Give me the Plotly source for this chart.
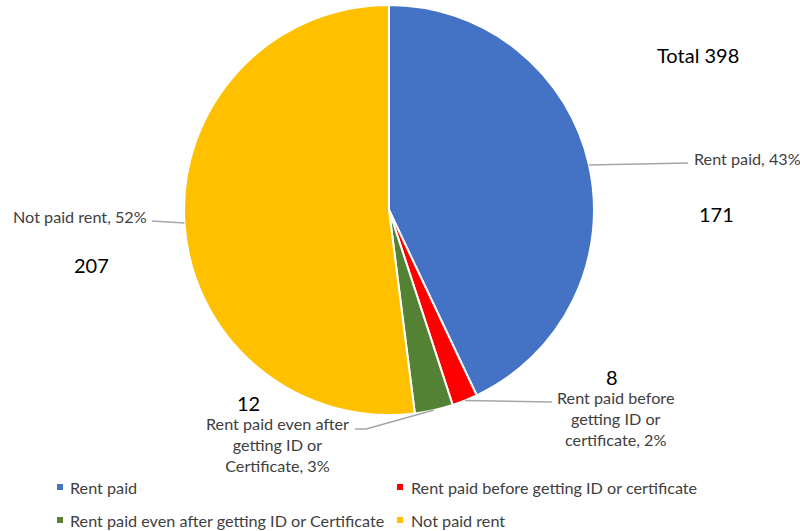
import math
import textwrap
import plotly.graph_objects as go

# Rent payment status of respondents
categories = [
    "Rent paid",
    "Rent paid before getting ID or certificate",
    "Rent paid even after getting ID or Certificate",
    "Not paid rent",
]
counts = [171, 8, 12, 207]
colors = ["#4472C4", "#FF0000", "#548235", "#FFC000"]

W, H = 800, 531
FONT = "Lato, 'Open Sans', sans-serif"
CX, CY, R = 389, 210, 205  # pie centre and radius in pixels


def px(x):
    return x / W


def py(y):
    return 1 - y / H


total = sum(counts)
pcts = [round(v / total * 100) for v in counts]

fig = go.Figure(
    go.Pie(
        labels=categories,
        values=counts,
        marker=dict(colors=colors, line=dict(color="white", width=2)),
        sort=False,
        direction="clockwise",
        rotation=0,
        textinfo="none",
        hoverinfo="label+value+percent",
        showlegend=False,
        domain=dict(x=[px(CX - R), px(CX + R)], y=[py(CY + R), py(CY - R)]),
    )
)

# label placement per slice:
# (elbow points of the leader line, text x, text y, anchor, count x, count y)
placement = [
    ([(688, 163)], 692, 158, "left", 716, 214),
    ([(552, 402)], 615, 418, "center", 612, 377),
    ([(366, 429), (355, 429)], 277, 444, "center", 248, 403),
    ([(152, 221)], 149, 216, "right", 91, 265),
]

shapes = []
annotations = []
cum = 0
for name, v, pct, (pts, tx, ty, anchor, nx, ny) in zip(categories, counts, pcts, placement):
    mid = (cum + v / 2) / total * 2 * math.pi
    cum += v
    ex = CX + R * math.sin(mid)
    ey = CY - R * math.cos(mid)
    prev = (ex, ey)
    for p in pts:
        shapes.append(dict(
            type="line", xref="paper", yref="paper",
            x0=px(prev[0]), y0=py(prev[1]), x1=px(p[0]), y1=py(p[1]),
            line=dict(color="#A6A6A6", width=1.5),
        ))
        prev = p
    text = "<br>".join(textwrap.wrap(f"{name}, {pct}%", width=20))
    annotations.append(dict(
        text=text, x=px(tx), y=py(ty), xref="paper", yref="paper",
        xanchor=anchor, yanchor="middle", align="center", showarrow=False,
        font=dict(family=FONT, size=16.2, color="#404040"),
    ))
    annotations.append(dict(
        text=str(v), x=px(nx), y=py(ny), xref="paper", yref="paper",
        xanchor="center", yanchor="middle", showarrow=False,
        font=dict(family=FONT, size=20, color="#000000"),
    ))

annotations.append(dict(
    text=f"Total {total}", x=px(698), y=py(55), xref="paper", yref="paper",
    xanchor="center", yanchor="middle", showarrow=False,
    font=dict(family=FONT, size=20, color="#000000"),
))

# legend: two rows of two entries
legend_pos = [(57, 487, 68), (397, 487, 409), (57, 520, 68), (397, 520, 409)]
for name, col, (sx, sy, tx) in zip(categories, colors, legend_pos):
    shapes.append(dict(
        type="rect", xref="paper", yref="paper",
        x0=px(sx), x1=px(sx + 6), y0=py(sy + 3), y1=py(sy - 3),
        fillcolor=col, line=dict(width=0),
    ))
    annotations.append(dict(
        text=name, x=px(tx), y=py(sy), xref="paper", yref="paper",
        xanchor="left", yanchor="middle", showarrow=False,
        font=dict(family=FONT, size=16.2, color="#404040"),
    ))

fig.update_layout(
    width=W, height=H,
    margin=dict(l=0, r=0, t=0, b=0),
    paper_bgcolor="white", plot_bgcolor="white",
    shapes=shapes, annotations=annotations,
)

fig.write_html("out.html")
